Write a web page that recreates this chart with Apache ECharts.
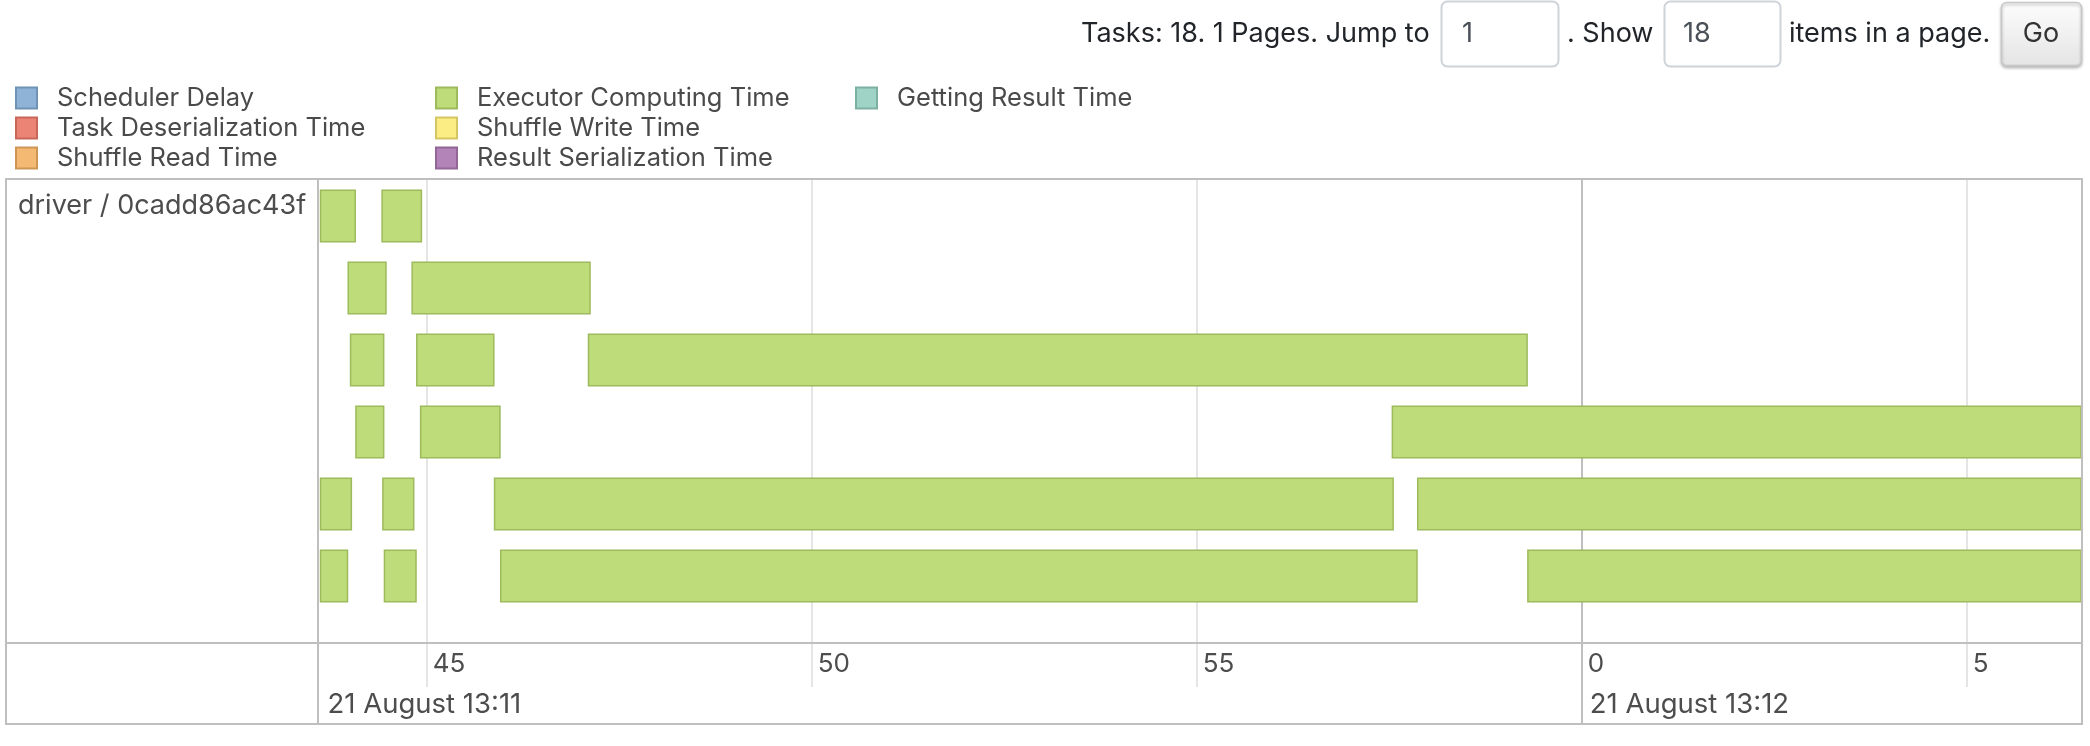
<!DOCTYPE html>
<html><head><meta charset="utf-8">
<script src="https://cdn.jsdelivr.net/npm/echarts@6/dist/echarts.min.js"></script>
<style>html,body{margin:0;padding:0;background:#fff;overflow:hidden}#chart{width:2090px;height:746px}</style>
</head><body><div id="chart"></div>
<script>
// ---- data (seconds after 21 August 13:11:00) ----
const groupLabel = 'driver / 0cadd86ac43f';
const rowLevels  = ['0', '1', '2', '3', '4', '5'];
const taskRow    = [0, 0, 1, 1, 2, 2, 2, 3, 3, 3, 4, 4, 4, 4, 5, 5, 5, 5];
const taskStart  = [43.62, 44.42, 43.98, 44.81, 44.01, 44.87, 47.10, 44.08, 44.92, 57.54, 43.62, 44.43, 45.88, 57.87, 43.62, 44.45, 45.96, 59.30];
const taskEnd    = [44.07, 44.93, 44.47, 47.12, 44.44, 45.87, 59.29, 44.44, 45.95, 68.00, 44.02, 44.83, 57.55, 68.00, 43.97, 44.86, 57.86, 68.00];
const windowRange = [43.6065, 66.4835];
const tickValues = [45, 50, 55, 60, 65];
const tickLabels = ['45', '50', '55', '0', '5'];
const dateTicks  = [43.6065, 60];
const dateLabels = ['21 August 13:11', '21 August 13:12'];
const legendCols = [
  ['Scheduler Delay', 'Task Deserialization Time', 'Shuffle Read Time'],
  ['Executor Computing Time', 'Shuffle Write Time', 'Result Serialization Time'],
  ['Getting Result Time']
];
const legendColors = {
  'Scheduler Delay': ['#8EB3D6', '#6E93B4'],
  'Task Deserialization Time': ['#EC8475', '#C9665A'],
  'Shuffle Read Time': ['#F4B972', '#CD9654'],
  'Executor Computing Time': ['#BEDC7A', '#9DBA5C'],
  'Shuffle Write Time': ['#FBEC84', '#D5C663'],
  'Result Serialization Time': ['#B384B8', '#926798'],
  'Getting Result Time': ['#9ED3C6', '#7CB0A3']
};

const FONT = 'Inter';
const chart = echarts.init(document.getElementById('chart'), null, {renderer: 'canvas'});

const tasks = taskRow.map((r, i) => [r, taskStart[i], taskEnd[i]]);

const legends = legendCols.map((col, ci) => ({
  orient: 'vertical',
  left: [15, 435, 855][ci],
  top: 85,
  padding: 0,
  itemWidth: 21,
  itemHeight: 21,
  itemGap: 4,
  selectedMode: false,
  icon: 'rect',
  textStyle: {fontFamily: FONT, fontSize: 25.5, color: '#4a4a4a', lineHeight: 26, padding: [0, 0, 0, 15]},
  data: col.map(n => ({name: n, itemStyle: {color: legendColors[n][0], borderColor: legendColors[n][1], borderWidth: 2}}))
}));

const legendSeries = Object.keys(legendColors).filter(n => n !== 'Executor Computing Time').map(n => ({
  type: 'custom', name: n, data: [], color: legendColors[n][0], renderItem: () => null
}));

const topY = 34;
const TS = 27;
const graphics = [
  {type: 'text', x: 1081, y: topY, style: {text: 'Tasks: ' + tasks.length + '. 1 Pages. Jump to', fontFamily: FONT, fontSize: TS, fill: '#212529', verticalAlign: 'middle'}},
  {type: 'rect', shape: {x: 1441.5, y: 1.5, width: 117, height: 65, r: 6}, style: {fill: '#fff', stroke: '#ced4da', lineWidth: 2}},
  {type: 'text', x: 1462, y: topY, style: {text: '1', fontFamily: FONT, fontSize: TS, fill: '#495057', verticalAlign: 'middle'}},
  {type: 'text', x: 1567, y: topY, style: {text: '. Show', fontFamily: FONT, fontSize: TS, fill: '#212529', verticalAlign: 'middle'}},
  {type: 'rect', shape: {x: 1664.5, y: 1.5, width: 116, height: 65, r: 6}, style: {fill: '#fff', stroke: '#ced4da', lineWidth: 2}},
  {type: 'text', x: 1683, y: topY, style: {text: '18', fontFamily: FONT, fontSize: TS, fill: '#495057', verticalAlign: 'middle'}},
  {type: 'text', x: 1789, y: topY, style: {text: 'items in a page.', fontFamily: FONT, fontSize: TS, fill: '#212529', verticalAlign: 'middle'}},
  {type: 'rect', shape: {x: 2001.5, y: 2.5, width: 80, height: 63, r: 5},
   style: {fill: new echarts.graphic.LinearGradient(0, 0, 0, 1, [{offset: 0, color: '#fdfdfd'}, {offset: 1, color: '#e4e4e4'}]), stroke: '#c8c8c8', lineWidth: 1.5, shadowColor: 'rgba(0,0,0,0.25)', shadowBlur: 3, shadowOffsetY: 2}},
  {type: 'text', x: 2041, y: topY, style: {text: 'Go', fontFamily: FONT, fontSize: TS, fill: '#333', align: 'center', verticalAlign: 'middle'}},
  // frame
  {type: 'rect', z: 100, shape: {x: 6, y: 179, width: 2076, height: 545}, style: {fill: null, stroke: '#bfbfbf', lineWidth: 2}},
  {type: 'line', z: 100, shape: {x1: 318, y1: 179, x2: 318, y2: 724}, style: {stroke: '#bfbfbf', lineWidth: 2}},
  {type: 'line', z: 100, shape: {x1: 6, y1: 643, x2: 2082, y2: 643}, style: {stroke: '#bfbfbf', lineWidth: 2}},
  {type: 'text', x: 18, y: 206, style: {text: groupLabel, fontFamily: FONT, fontSize: 27, fill: '#4d4d4d', verticalAlign: 'middle'}}
];

chart.setOption({
  animation: false,
  legend: legends,
  grid: {left: 319.5, right: 9, top: 180, height: 432},
  xAxis: {
    type: 'value', min: windowRange[0], max: windowRange[1],
    axisLine: {show: false}, axisTick: {show: false}, splitLine: {show: false},
    axisLabel: {customValues: tickValues, formatter: v => tickLabels[tickValues.indexOf(v)],
      align: 'left', verticalAlign: 'middle', margin: 52, padding: [0, 0, 0, 6],
      fontFamily: FONT, fontSize: 26, color: '#4d4d4d', hideOverlap: false}
  },
  yAxis: {type: 'category', data: rowLevels, inverse: true, show: false},
  graphic: graphics,
  series: [
    {
      type: 'custom', name: 'gridlines', silent: true, z: 1,
      data: tickValues.map(v => [v]), encode: {x: 0},
      renderItem(params, api) {
        const cs = params.coordSys;
        const x = Math.round(api.coord([api.value(0), 0])[0]);
        const major = api.value(0) % 60 === 0;
        return {type: 'line', shape: {x1: x, y1: cs.y - 1, x2: x, y2: cs.y + cs.height + (major ? 112 : 75)},
          style: {stroke: major ? '#bfbfbf' : '#e5e5e5', lineWidth: 2}};
      }
    },
    {
      type: 'custom', name: 'dates', silent: true, z: 2,
      data: dateTicks.map((v, i) => [v, i]), encode: {x: 0},
      renderItem(params, api) {
        const cs = params.coordSys;
        const x = api.coord([api.value(0), 0])[0];
        return {type: 'text', x: x + 8, y: cs.y + cs.height + 93,
          style: {text: dateLabels[api.value(1)], fontFamily: FONT, fontSize: 27.5, fill: '#4d4d4d', verticalAlign: 'middle'}};
      }
    },
    {
      type: 'custom', name: 'Executor Computing Time', z: 5, color: legendColors['Executor Computing Time'][0],
      data: tasks, encode: {x: [1, 2], y: 0},
      renderItem(params, api) {
        const cs = params.coordSys;
        const row = api.value(0);
        const s = api.coord([api.value(1), row]);
        const e = api.coord([api.value(2), row]);
        const h = api.size([0, 1])[1] * 0.716;
        const r = echarts.graphic.clipRectByRect({x: s[0], y: s[1] - h / 2, width: e[0] - s[0], height: h},
          {x: cs.x, y: cs.y, width: cs.width, height: cs.height});
        if (!r) return null;
        return {type: 'rect', shape: r, style: {fill: '#BEDC7A', stroke: '#9DBA5C', lineWidth: 1.5}};
      }
    }
  ].concat(legendSeries)
});
</script></body></html>
